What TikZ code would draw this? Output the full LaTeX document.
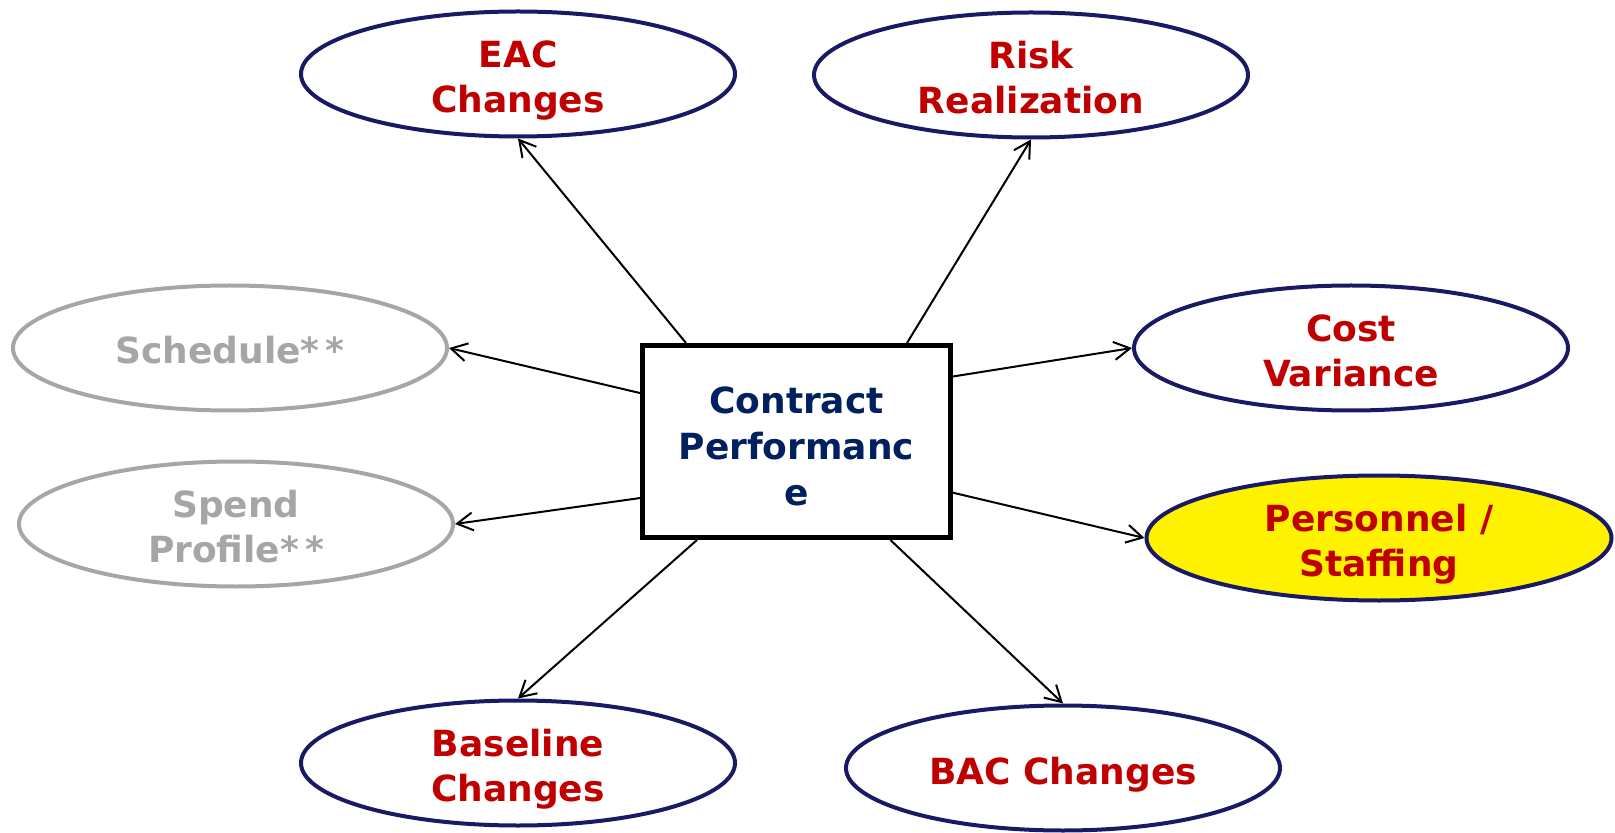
\documentclass[tikz,border=0pt]{standalone}
\usepackage{fontspec}
\setmainfont{DejaVu Sans}
\usepackage{tikz}
\usetikzlibrary{shapes.geometric,arrows.meta,calc}

\definecolor{ovalblue}{RGB}{25,25,100}
\definecolor{labelred}{RGB}{192,0,0}
\definecolor{boxblue}{RGB}{0,32,96}
\definecolor{fadegray}{RGB}{166,166,166}

\tikzset{
    oval/.style={ellipse, draw=ovalblue, line width=2pt, minimum width=217pt,
        minimum height=62.5pt, inner sep=0pt, align=center, text=labelred,
        text height=38.5pt, text depth=0pt,
        font=\bfseries\fontsize{18}{22.5}\selectfont},
    oneline/.style={text height=16pt},
    greyoval/.style={oval, draw=fadegray, text=fadegray},
    link/.style={line width=1pt, -{Straight Barb[length=8pt,width=9pt]}}
}

\begin{document}
\begin{tikzpicture}[x=0.5pt,y=-0.5pt]
    \useasboundingbox (0,0) rectangle (1615,833);
    % Draw the centre box
    \node[draw, line width=2.5pt, fill=white, minimum width=154pt, minimum height=96pt,
        inner sep=0pt, align=center, text=boxblue, text height=63.5pt, text depth=0pt,
        font=\bfseries\fontsize{18}{23}\selectfont] (perf) at (796.5,441.5)
        {Contract\\Performanc\\e};
    % Draw the ovals
    \node[oval] (eac) at (518,74) {EAC\\Changes};
    \node[oval] (risk) at (1031,75) {Risk\\Realization};
    \node[oval] (cost) at (1351,348) {Cost\\Variance};
    \node[oval, fill=yellow, minimum width=232.5pt] (staff) at (1379,538) {Personnel /\\Staffing};
    \node[greyoval, oneline] (sched) at (230,348) {Schedule*\kern3pt*};
    \node[greyoval] (spend) at (236,524) {Spend\\Profile*\kern3pt*};
    \node[oval] (base) at (518,763) {Baseline\\Changes};
    \node[oval, oneline] (bac) at (1063,768) {BAC Changes};
    % Arrows from the top and bottom of the box
    \foreach \f/\target in {0.147/eac, 0.853/risk}
        \draw[link] ($(perf.north west)!\f!(perf.north east)$) -- (\target.south);
    \foreach \f/\target in {0.182/base, 0.8/bac}
        \draw[link] ($(perf.south west)!\f!(perf.south east)$) -- (\target.north);
    % Arrows from the sides
    \foreach \f/\target in {0.254/sched, 0.787/spend}
        \draw[link] ($(perf.north west)!\f!(perf.south west)$) -- (\target.east);
    \foreach \f/\target in {0.17/cost, 0.76/staff}
        \draw[link] ($(perf.north east)!\f!(perf.south east)$) -- (\target.west);
\end{tikzpicture}
\end{document}
